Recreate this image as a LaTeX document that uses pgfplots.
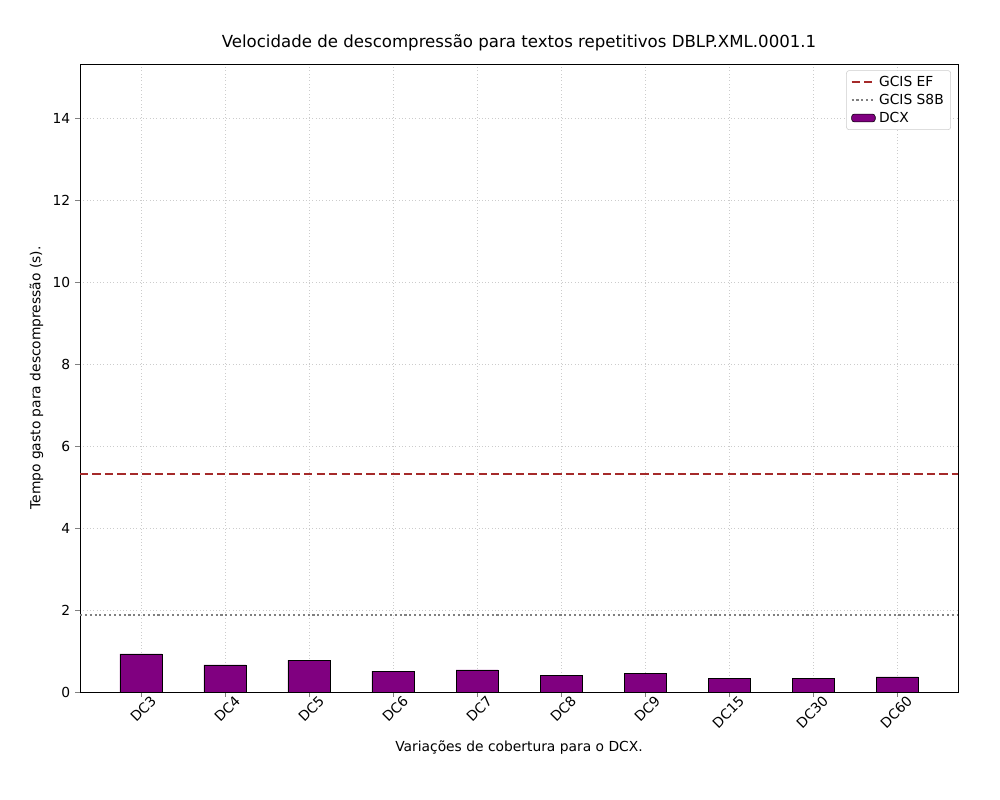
\documentclass[border=0pt]{standalone}
\usepackage{pgfplots}
\pgfplotsset{compat=1.18}
\usepackage{fontspec}
\setmainfont{DejaVu Sans}
\definecolor{efc}{RGB}{165,42,42}
\definecolor{bar}{RGB}{128,0,128}
\begin{document}
\begin{tikzpicture}
\begin{axis}[
  scale only axis, width=8.78in, height=6.28in,
  xmin=-0.726, xmax=9.726, ymin=0, ymax=15.32,
  xtick={0,...,9},
  xticklabels={DC3,DC4,DC5,DC6,DC7,DC8,DC9,DC15,DC30,DC60},
  x tick label style={rotate=45, anchor=north east, xshift=9pt, font=\fontsize{10}{12}\selectfont},
  y tick label style={font=\fontsize{10}{12}\selectfont},
  ytick={0,2,...,14},
  xtick pos=left, ytick pos=left,
  /pgf/number format/assume math mode=true,
  grid=major, grid style={dotted, gray!40},
  tick align=outside, major tick length=3.5pt,
  title={Velocidade de descompressão para textos repetitivos DBLP.XML.0001.1},
  title style={font=\fontsize{12}{14}\selectfont},
  xlabel={Variações de cobertura para o DCX.},
  ylabel={Tempo gasto para descompressão (s).},
  label style={font=\fontsize{10}{12}\selectfont},
  legend style={at={(0.992,0.99)}, anchor=north east, font=\fontsize{10}{12}\selectfont, draw=gray!40, rounded corners=2pt},
  legend cell align=left,
]
\addplot[draw=efc, line width=1.5pt, dash pattern=on 6pt off 3pt, forget plot] coordinates {(-0.726,5.32) (9.726,5.32)};
\addlegendimage{draw=efc, line width=1.5pt, dash pattern=on 6pt off 3pt}
\addlegendentry{GCIS EF}
\addplot[draw=gray, line width=1.5pt, dash pattern=on 1.5pt off 2pt, forget plot] coordinates {(-0.726,1.88) (9.726,1.88)};
\addlegendimage{draw=gray, line width=1.5pt, dash pattern=on 1.5pt off 2pt}
\addlegendentry{GCIS S8B}
\addplot[ybar, bar width=0.5, fill=bar, draw=black, area legend] coordinates {
(0,0.93) (1,0.66) (2,0.78) (3,0.51) (4,0.54) (5,0.41) (6,0.46) (7,0.34) (8,0.34) (9,0.37)};
\addlegendentry{DCX}
\end{axis}
\path ([shift={(-0.80in,-1.08in)}]current axis.south west) rectangle ([shift={(0.42in,0.64in)}]current axis.north east);
\end{tikzpicture}
\end{document}
